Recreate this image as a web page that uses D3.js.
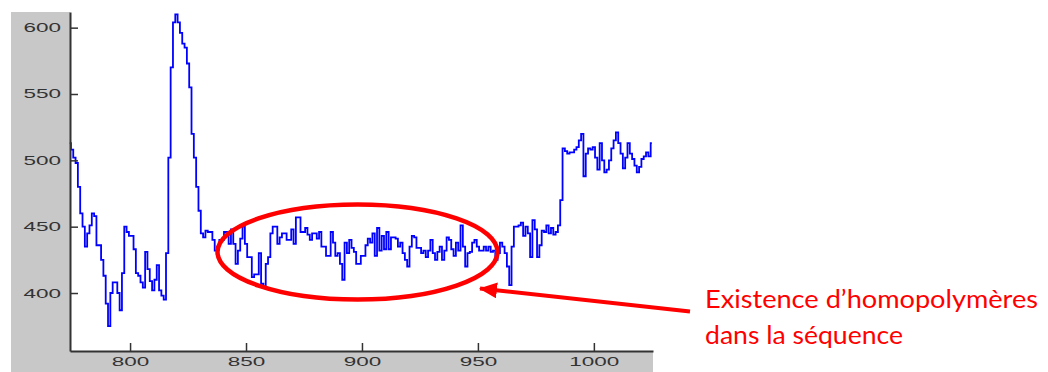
<!DOCTYPE html>
<html>
<head>
<meta charset="utf-8">
<script src="https://cdn.jsdelivr.net/npm/d3@7"></script>
<style>
  body { margin: 0; background: #fff; }
</style>
</head>
<body>
<div class="canvas"></div>
<script>
// signal trace, one value per position starting at 774
const startPos = 774
const values = [
  513, 508, 502, 498, 480, 460,
  450, 435, 445, 451, 460, 458, 436, 436, 425, 413,
  392, 375, 400, 408, 408, 400, 387, 415, 450, 446,
  443, 443, 433, 415, 413, 408, 404, 431, 418, 409,
  402, 410, 421, 402, 398, 395, 430, 502, 570, 604,
  610, 604, 596, 588, 585, 573, 555, 520, 502, 480,
  462, 445, 442, 447, 446, 446, 440, 432, 435, 440,
  440, 446, 446, 437, 448, 437, 422, 432, 441, 450,
  437, 427, 427, 412, 414, 414, 430, 407, 404, 422,
  427, 445, 450, 450, 437, 442, 445, 445, 440, 440,
  448, 437, 457, 457, 446, 446, 449, 444, 440, 445,
  445, 441, 446, 435, 435, 428, 428, 446, 438, 428,
  430, 422, 410, 438, 430, 440, 434, 431, 422, 422,
  428, 428, 436, 441, 438, 445, 428, 449, 432, 443,
  433, 446, 433, 442, 442, 441, 435, 438, 430, 425,
  420, 435, 443, 442, 434, 434, 430, 432, 427, 432,
  440, 430, 425, 431, 435, 425, 432, 442, 440, 433,
  428, 438, 432, 451, 435, 420, 430, 431, 438, 440,
  435, 432, 432, 435, 432, 435, 431, 432, 425, 430,
  438, 435, 430, 420, 406, 435, 450, 450, 451, 453,
  443, 450, 445, 427, 455, 448, 427, 436, 447, 446,
  451, 445, 449, 444, 446, 451, 470, 509, 507, 505,
  506, 506, 508, 510, 515, 520, 488, 505, 509, 508,
  510, 502, 493, 513, 500, 491, 493, 500, 509, 515,
  521, 513, 505, 494, 502, 513, 505, 501, 496, 491,
  495, 501, 503, 506, 503, 513
]
const xTicks = [800, 850, 900, 950, 1000]
const yTicks = [400, 450, 500, 550, 600]
const noteLines = ['Existence d’homopolymères', 'dans la séquence']

const data = values.map((v, i) => ({ pos: startPos + i, val: v }))

const svg = d3.select('.canvas').append('svg')
  .attr('width', 1048)
  .attr('height', 372)

// figure background (grey) and white axes box
svg.append('rect')
  .attr('x', 11).attr('y', 12)
  .attr('width', 642).attr('height', 372)
  .attr('fill', '#c8c8c8')

const plot = { left: 70, top: 12, right: 653, bottom: 351 }

svg.append('rect')
  .attr('x', plot.left).attr('y', plot.top)
  .attr('width', plot.right - plot.left)
  .attr('height', plot.bottom - plot.top)
  .attr('fill', '#fff')

const x = d3.scaleLinear()
  .domain([774.1, 1025.5])
  .range([plot.left, plot.right])

const y = d3.scaleLinear()
  .domain([356.3, 611.8])
  .range([plot.bottom, plot.top])

const line = d3.line()
  .x(d => x(d.pos))
  .y(d => y(d.val))
  .curve(d3.curveStep)

svg.append('path')
  .datum(data)
  .attr('fill', 'none')
  .attr('stroke', '#0000ff')
  .attr('stroke-width', 1.8)
  .attr('d', line)

// axes, matlab style: ticks pointing inwards
const xAxis = d3.axisBottom(x).tickValues(xTicks).tickFormat(d3.format('d'))
  .tickSizeInner(-8).tickSizeOuter(0)
const yAxis = d3.axisLeft(y).tickValues(yTicks).tickFormat(d3.format('d'))
  .tickSizeInner(-8).tickSizeOuter(0)

const xAxisGroup = svg.append('g')
  .attr('transform', `translate(0,${plot.bottom})`)
  .call(xAxis)
const yAxisGroup = svg.append('g')
  .attr('transform', `translate(${plot.left},0)`)
  .call(yAxis)

// stretched tick labels like the screenshot
xAxisGroup.selectAll('text')
  .attr('y', 0)
  .attr('transform', 'translate(0,6) scale(1.8,1)')
yAxisGroup.selectAll('text')
  .attr('x', 0)
  .attr('transform', 'translate(-9,0) scale(1.8,1)')

svg.selectAll('.tick text')
  .attr('font-family', 'Liberation Sans, Arial, sans-serif')
  .attr('font-size', 12.5)
  .attr('fill', '#333')
svg.selectAll('.tick line')
  .attr('stroke', '#333')
  .attr('stroke-width', 1.5)
svg.selectAll('.domain')
  .attr('stroke', '#333')
  .attr('stroke-width', 2)

// annotation
svg.append('ellipse')
  .attr('cx', 357.5).attr('cy', 252)
  .attr('rx', 140).attr('ry', 47.5)
  .attr('fill', 'none')
  .attr('stroke', '#f00')
  .attr('stroke-width', 4.5)

svg.append('defs').append('marker')
  .attr('id', 'head')
  .attr('viewBox', '0 0 18 16')
  .attr('refX', 17).attr('refY', 8)
  .attr('markerWidth', 18).attr('markerHeight', 16)
  .attr('markerUnits', 'userSpaceOnUse')
  .attr('orient', 'auto')
  .append('path')
  .attr('d', 'M0,0 L18,8 L0,16 Z')
  .attr('fill', '#f00')

svg.append('line')
  .attr('x1', 690).attr('y1', 311.5)
  .attr('x2', 480).attr('y2', 288.5)
  .attr('stroke', '#f00')
  .attr('stroke-width', 4)
  .attr('marker-end', 'url(#head)')

svg.selectAll('.note')
  .data(noteLines)
  .enter().append('text')
  .attr('class', 'note')
  .attr('x', 705)
  .attr('y', (d, i) => 308 + i * 36)
  .attr('font-family', 'Lato, sans-serif')
  .attr('font-size', 24.5)
  .attr('fill', '#f00')
  .attr('textLength', (d, i) => i === 0 ? 333 : 198)
  .attr('lengthAdjust', 'spacingAndGlyphs')
  .text(d => d)
</script>
</body>
</html>
